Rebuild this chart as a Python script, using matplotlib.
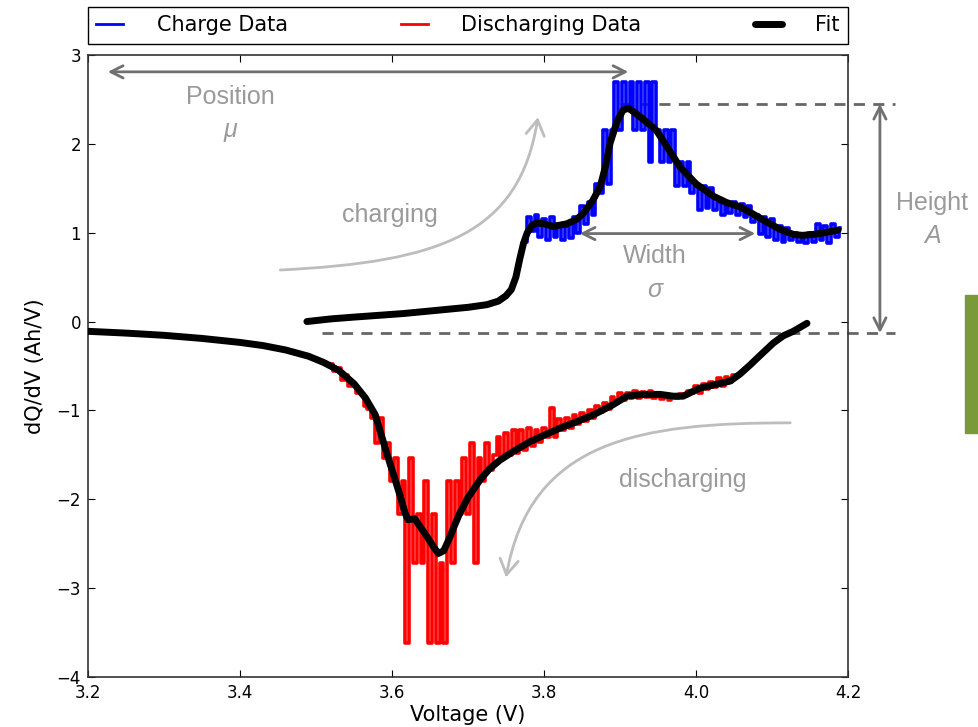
import matplotlib
matplotlib.use("Agg")
import matplotlib.pyplot as plt
from matplotlib.patches import Rectangle, FancyArrowPatch
from matplotlib.path import Path

# Dati di carica (blu)
charge_v = [3.775, 3.780, 3.785, 3.790, 3.795, 3.800, 3.805, 3.810, 3.815, 3.820,
            3.825, 3.830, 3.835, 3.840, 3.845, 3.850, 3.855, 3.860, 3.865, 3.870,
            3.875, 3.880, 3.885, 3.890, 3.895, 3.900, 3.905, 3.910, 3.915, 3.920,
            3.925, 3.930, 3.935, 3.940, 3.945, 3.950, 3.955, 3.960, 3.965, 3.970,
            3.975, 3.980, 3.985, 3.990, 3.995, 4.000, 4.005, 4.010, 4.015, 4.020,
            4.025, 4.030, 4.035, 4.040, 4.045, 4.050, 4.055, 4.060, 4.065, 4.070,
            4.075, 4.080, 4.085, 4.090, 4.095, 4.100, 4.105, 4.110, 4.115, 4.120,
            4.125, 4.130, 4.135, 4.140, 4.145, 4.150, 4.155, 4.160, 4.165, 4.170,
            4.175, 4.180, 4.185, 4.190]
charge_dqdv = [0.90, 1.18, 1.02, 1.20, 0.95, 1.15, 0.92, 1.18, 0.95, 1.10,
               0.92, 1.08, 0.94, 1.18, 1.00, 1.30, 1.10, 1.35, 1.20, 1.55,
               1.45, 2.16, 1.55, 2.16, 2.70, 2.16, 2.70, 2.43, 2.70, 2.16,
               2.70, 2.16, 2.70, 1.80, 2.70, 2.16, 1.80, 2.16, 1.80, 2.16,
               1.52, 1.80, 1.52, 1.80, 1.45, 1.52, 1.25, 1.52, 1.28, 1.50,
               1.25, 1.35, 1.20, 1.35, 1.22, 1.35, 1.20, 1.32, 1.18, 1.30,
               1.12, 1.20, 0.98, 1.18, 0.95, 1.15, 0.92, 1.08, 0.90, 1.05,
               0.92, 1.00, 0.90, 0.98, 0.88, 1.00, 0.90, 1.10, 0.92, 1.08,
               0.88, 1.10, 0.95, 1.05]

# Dati di scarica (rosso)
discharge_v = [3.520, 3.525, 3.530, 3.535, 3.540, 3.545, 3.550, 3.555, 3.560, 3.565,
               3.570, 3.575, 3.580, 3.585, 3.590, 3.595, 3.600, 3.605, 3.610, 3.615,
               3.620, 3.625, 3.630, 3.635, 3.640, 3.645, 3.650, 3.655, 3.660, 3.665,
               3.670, 3.675, 3.680, 3.685, 3.690, 3.695, 3.700, 3.705, 3.710, 3.715,
               3.720, 3.725, 3.730, 3.735, 3.740, 3.745, 3.750, 3.755, 3.760, 3.765,
               3.770, 3.775, 3.780, 3.785, 3.790, 3.795, 3.800, 3.805, 3.810, 3.815,
               3.820, 3.825, 3.830, 3.835, 3.840, 3.845, 3.850, 3.855, 3.860, 3.865,
               3.870, 3.875, 3.880, 3.885, 3.890, 3.895, 3.900, 3.905, 3.910, 3.915,
               3.920, 3.925, 3.930, 3.935, 3.940, 3.945, 3.950, 3.955, 3.960, 3.965,
               3.970, 3.975, 3.980, 3.985, 3.990, 3.995, 4.000, 4.005, 4.010, 4.015,
               4.020, 4.025, 4.030, 4.035, 4.040, 4.045, 4.050]
discharge_dqdv = [-0.48, -0.56, -0.52, -0.66, -0.60, -0.72, -0.70, -0.80, -0.82, -0.95,
                  -0.98, -1.09, -1.37, -1.09, -1.54, -1.37, -1.80, -1.54, -2.17, -1.80,
                  -3.62, -1.54, -2.72, -2.17, -2.72, -1.80, -3.62, -2.17, -3.62, -2.72,
                  -3.62, -1.80, -2.72, -1.80, -2.17, -1.54, -2.17, -1.37, -2.72, -1.54,
                  -1.80, -1.37, -1.67, -1.50, -1.30, -1.52, -1.25, -1.50, -1.22, -1.48,
                  -1.22, -1.45, -1.20, -1.40, -1.22, -1.35, -1.20, -1.30, -0.97, -1.30,
                  -1.10, -1.22, -1.08, -1.20, -1.05, -1.15, -1.03, -1.12, -1.00, -1.08,
                  -0.95, -1.02, -0.92, -0.98, -0.85, -0.92, -0.80, -0.88, -0.80, -0.86,
                  -0.78, -0.86, -0.79, -0.85, -0.78, -0.86, -0.80, -0.87, -0.82, -0.88,
                  -0.83, -0.86, -0.82, -0.84, -0.78, -0.80, -0.72, -0.80, -0.70, -0.76,
                  -0.68, -0.74, -0.64, -0.72, -0.62, -0.68, -0.60]

# Curve di fit
fit_charge_v = [3.488, 3.520, 3.550, 3.615, 3.700, 3.725, 3.740, 3.750, 3.757, 3.763,
                3.768, 3.773, 3.778, 3.784, 3.790, 3.800, 3.812, 3.830, 3.843, 3.852,
                3.864, 3.874, 3.881, 3.887, 3.896, 3.904, 3.911, 3.918, 3.930, 3.948,
                3.963, 3.979, 4.000, 4.023, 4.040, 4.058, 4.075, 4.089, 4.110, 4.128,
                4.140, 4.154, 4.170, 4.187]
fit_charge_dqdv = [0.00, 0.03, 0.05, 0.09, 0.16, 0.19, 0.23, 0.29, 0.36, 0.50,
                   0.70, 0.88, 1.00, 1.08, 1.11, 1.10, 1.07, 1.10, 1.15, 1.22,
                   1.36, 1.52, 1.75, 2.01, 2.25, 2.38, 2.40, 2.36, 2.28, 2.15,
                   1.95, 1.74, 1.55, 1.41, 1.34, 1.29, 1.21, 1.14, 1.04, 0.98,
                   0.97, 0.98, 1.00, 1.03]
fit_discharge_v = [3.200, 3.250, 3.300, 3.350, 3.400, 3.430, 3.460, 3.490, 3.510, 3.530,
                   3.550, 3.565, 3.578, 3.593, 3.603, 3.611, 3.617, 3.621, 3.630, 3.638,
                   3.646, 3.655, 3.661, 3.668, 3.675, 3.682, 3.689, 3.700, 3.716, 3.728,
                   3.742, 3.760, 3.782, 3.800, 3.821, 3.845, 3.865, 3.890, 3.909, 3.930,
                   3.953, 3.970, 3.983, 3.995, 4.005, 4.025, 4.045, 4.058, 4.071, 4.087,
                   4.102, 4.115, 4.128, 4.146]
fit_discharge_dqdv = [-0.11, -0.13, -0.155, -0.19, -0.235, -0.27, -0.32, -0.39, -0.46, -0.55,
                      -0.70, -0.86, -1.05, -1.48, -1.75, -1.97, -2.15, -2.23, -2.22, -2.32,
                      -2.42, -2.54, -2.61, -2.58, -2.45, -2.30, -2.16, -1.98, -1.78, -1.66,
                      -1.56, -1.46, -1.35, -1.28, -1.20, -1.12, -1.05, -0.94, -0.84, -0.82,
                      -0.82, -0.84, -0.84, -0.79, -0.75, -0.71, -0.67, -0.59, -0.49, -0.36,
                      -0.24, -0.16, -0.11, -0.02]

x_ticks = [3.2, 3.4, 3.6, 3.8, 4.0, 4.2]
y_ticks = [-4, -3, -2, -1, 0, 1, 2, 3]

grey_text = "#9a9a9a"
grey_arrow = "#707070"
grey_curve = "#bdbdbd"
note_font = "Liberation Sans"

fig = plt.figure(figsize=(9.79, 7.27), dpi=100)
ax = fig.add_axes([0.0899, 0.0688, 0.7763, 0.8556])

ax.plot(charge_v, charge_dqdv, color="#0000ff", lw=2.6, label="Charge Data", zorder=2,
        drawstyle="steps-mid")
ax.plot(discharge_v, discharge_dqdv, color="#ff0000", lw=2.6, label="Discharging Data",
        zorder=2, drawstyle="steps-mid")
ax.plot(fit_charge_v, fit_charge_dqdv, color="black", lw=5, label="Fit", zorder=3,
        solid_capstyle="round", solid_joinstyle="round")
ax.plot(fit_discharge_v, fit_discharge_dqdv, color="black", lw=5, zorder=3,
        solid_capstyle="round", solid_joinstyle="round")

ax.set_xlim(3.2, 4.2)
ax.set_ylim(-4, 3)
ax.set_xticks(x_ticks)
ax.set_xticklabels(["%.1f" % t for t in x_ticks])
ax.set_yticks(y_ticks)
ax.tick_params(direction="in", top=True, right=True, length=5, width=0.8,
               labelsize=12, pad=5)
for s in ax.spines.values():
    s.set_color("#333333")
    s.set_linewidth(1.2)
ax.set_xlabel("Voltage (V)", fontsize=15, labelpad=2)
ax.set_ylabel("dQ/dV (Ah/V)", fontsize=15, labelpad=8)

leg = ax.legend(loc="lower left", bbox_to_anchor=(0, 1.018, 1, 0.055), mode="expand",
                ncol=3, borderaxespad=0, fontsize=15, fancybox=False, framealpha=1,
                edgecolor="black", handlelength=1.3, handletextpad=1.6)
leg.get_frame().set_linewidth(1.0)
for h in leg.get_lines()[:2]:
    h.set_drawstyle("default")
    h.set_linewidth(2)

# Annotazioni (posizione, larghezza, altezza)
def double_arrow(p1, p2):
    ax.annotate("", xy=p2, xytext=p1, annotation_clip=False,
                arrowprops=dict(arrowstyle="<->", color=grey_arrow, lw=2,
                                mutation_scale=22, shrinkA=0, shrinkB=0))

double_arrow((3.226, 2.81), (3.911, 2.81))
double_arrow((3.847, 0.99), (4.078, 0.99))
double_arrow((4.242, -0.13), (4.242, 2.45))

for y in [2.45, -0.13]:
    x0 = 3.90 if y > 0 else 3.508
    ax.plot([x0, 4.262], [y, y], color="#666666", lw=2, ls=(0, (4, 3)), clip_on=False,
            zorder=1)

def note(x, y, s, italic=False):
    ax.text(x, y, s, ha="center", va="center", fontsize=18, color=grey_text,
            family=note_font, style="italic" if italic else "normal", clip_on=False)

note(3.387, 2.53, "Position")
note(3.387, 2.16, "\u03bc", italic=True)
note(3.946, 0.74, "Width")
note(3.946, 0.36, "\u03c3", italic=True)
note(4.311, 1.33, "Height")
note(4.311, 0.96, "A", italic=True)
note(3.597, 1.20, "charging")
note(3.983, -1.78, "discharging")

codes = [Path.MOVETO, Path.CURVE4, Path.CURVE4, Path.CURVE4]
charge_path = Path([(3.453, 0.58), (3.663, 0.67), (3.768, 0.98), (3.792, 2.30)], codes)
discharge_path = Path([(4.124, -1.14), (3.926, -1.14), (3.782, -1.33), (3.750, -2.88)], codes)
for p in [charge_path, discharge_path]:
    ax.add_patch(FancyArrowPatch(path=p, arrowstyle="->,head_length=0.5,head_width=0.3",
                                 color=grey_curve, lw=2, mutation_scale=22, zorder=1))

fig.patches.append(Rectangle((965 / 979, 1 - 433 / 727), 20 / 979, 138 / 727,
                             transform=fig.transFigure, color="#7a9a3a"))

fig.savefig("out.png", dpi=100)
